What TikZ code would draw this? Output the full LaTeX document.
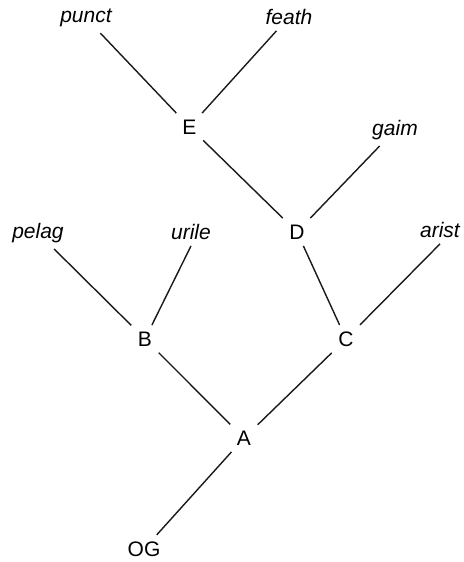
\documentclass[tikz,border=0pt]{standalone}
\usepackage{fontspec}
\setmainfont{Liberation Sans}
\usepackage{tikz}
\usetikzlibrary{positioning}
\tikzset{
  taxon/.style ={inner sep=6pt,font=\fontsize{21}{25}\selectfont\itshape},
  clade/.style ={inner sep=6.5pt,font=\fontsize{21}{25}\selectfont},
  branch/.style={line width=1.4pt,draw=black!90}
}
\begin{document}
\begin{tikzpicture}[x=1pt,y=-1pt]
  \useasboundingbox (0,0) rectangle (463,562);
  \node[taxon] (punct) at (86,18)  {punct};
  \node[taxon] (feath) at (289,17) {feath};
  \node[taxon] (gaim)  at (395,130) {gaim};
  \node[taxon] (pelag) at (38,233) {pelag};
  \node[taxon] (urile) at (191,232) {urile};
  \node[taxon] (arist) at (440,230) {arist};
  \node[clade] (E)  at (189.5,127) {E};
  \node[clade] (D)  at (297,232) {D};
  \node[clade] (B)  at (145,339) {B};
  \node[clade] (C)  at (346,339) {C};
  \node[clade] (A)  at (244,438) {A};
  \node[clade] (OG) at (144,549) {OG};
  \draw[branch] (punct) -- (E);
  \draw[branch] (feath) -- (E);
  \draw[branch] (E) -- (D);
  \draw[branch] (gaim) -- (D);
  \draw[branch] (pelag) -- (B);
  \draw[branch] (urile.south) -- (B);
  \draw[branch] (D) -- (C);
  \draw[branch] (arist.south) -- (C);
  \draw[branch] (B) -- (A);
  \draw[branch] (C) -- (A);
  \draw[branch] (A) -- (OG);
\end{tikzpicture}
\end{document}
